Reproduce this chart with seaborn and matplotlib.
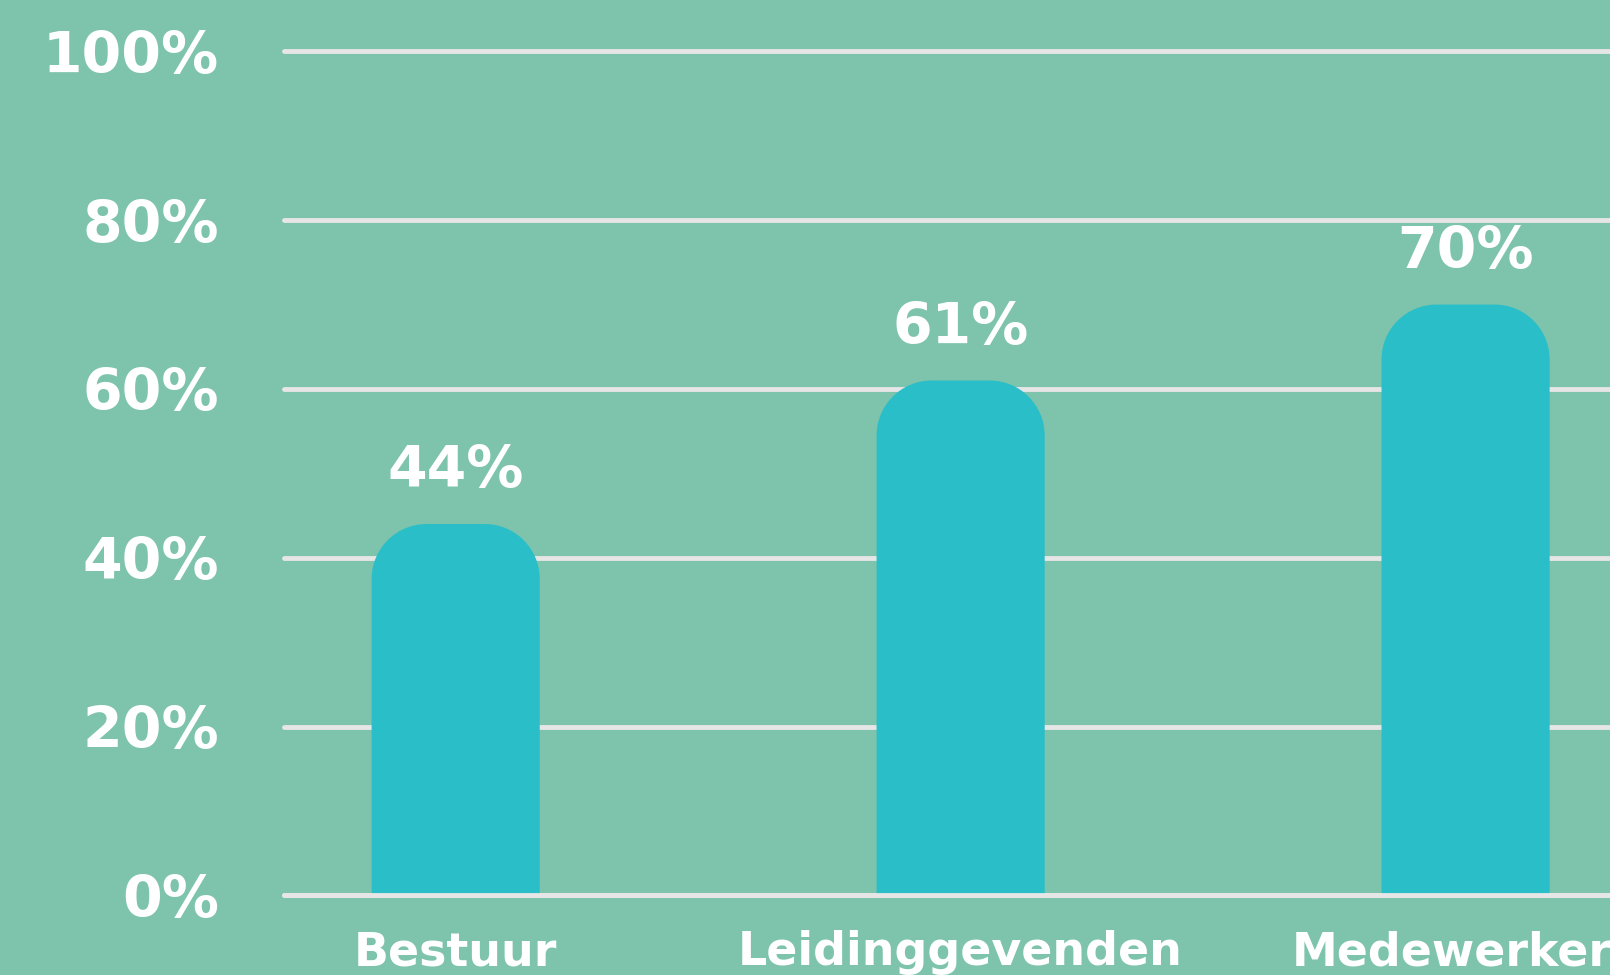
import matplotlib
matplotlib.use("Agg")
import matplotlib.pyplot as plt
from matplotlib.path import Path
from matplotlib.patches import PathPatch
import seaborn as sns

categories = ["Bestuur", "Leidinggevenden", "Medewerkers"]
values = [44, 61, 70]
yticks = [0, 20, 40, 60, 80, 100]

BG = "#7ec4ac"
BAR = "#2abfc8"
GRID = "#e6e6e6"

sns.set_theme(style="white")
plt.rcParams['font.family'] = ['DejaVu Sans']

fig = plt.figure(figsize=(16.1, 9.75), dpi=100, facecolor=BG)
ax = fig.add_axes([0.1764, 0.0816, 0.8236, 0.8658])
ax.set_facecolor(BG)

sns.barplot(x=categories, y=values, color=BAR, saturation=1, width=0.333, ax=ax)
ax.set_xlim(-0.34, 2.286)
ax.set_ylim(0, 100)

cont = ax.containers[0]
ax.bar_label(cont, labels=[f"{v}%" for v in values], padding=18,
             color="white", fontsize=41, fontweight="bold")

# rounded top corners, radius in pixels converted to data units
fig.canvas.draw()
p0 = ax.transData.transform((0, 0))
p1 = ax.transData.transform((1, 1))
r_px = 55
rx = r_px / (p1[0] - p0[0])
ry = r_px / (p1[1] - p0[1])
k = 0.5523
for rect in cont.patches:
    x0, w, h = rect.get_x(), rect.get_width(), rect.get_height()
    verts = [(x0, 0), (x0, h - ry), (x0, h - ry + k * ry), (x0 + rx - k * rx, h), (x0 + rx, h),
             (x0 + w - rx, h), (x0 + w - rx + k * rx, h), (x0 + w, h - ry + k * ry), (x0 + w, h - ry),
             (x0 + w, 0), (x0, 0)]
    codes = [Path.MOVETO, Path.LINETO, Path.CURVE4, Path.CURVE4, Path.CURVE4,
             Path.LINETO, Path.CURVE4, Path.CURVE4, Path.CURVE4, Path.LINETO, Path.CLOSEPOLY]
    rect.set_visible(False)
    ax.add_patch(PathPatch(Path(verts, codes), facecolor=BAR, edgecolor="none", zorder=2))

ax.set_yticks(yticks)
ax.set_yticklabels([f"{t}%" for t in yticks])
ax.grid(axis="y", color=GRID, lw=3.5, solid_capstyle="round")
ax.set_axisbelow(True)
for line in ax.get_ygridlines():
    line.set_clip_on(False)
# baseline sits on top of the bars
ax.axhline(0, color=GRID, lw=3.5, solid_capstyle="round", zorder=3, clip_on=False)

ax.tick_params(axis="y", length=0, pad=47, labelsize=41, labelcolor="white")
ax.tick_params(axis="x", length=0, pad=25, labelsize=33, labelcolor="white")
for lab in ax.get_xticklabels() + ax.get_yticklabels():
    lab.set_fontweight("bold")
for s in ax.spines.values():
    s.set_visible(False)
ax.set_xlabel("")
ax.set_ylabel("")

fig.savefig("out.png", dpi=100, facecolor=BG)
